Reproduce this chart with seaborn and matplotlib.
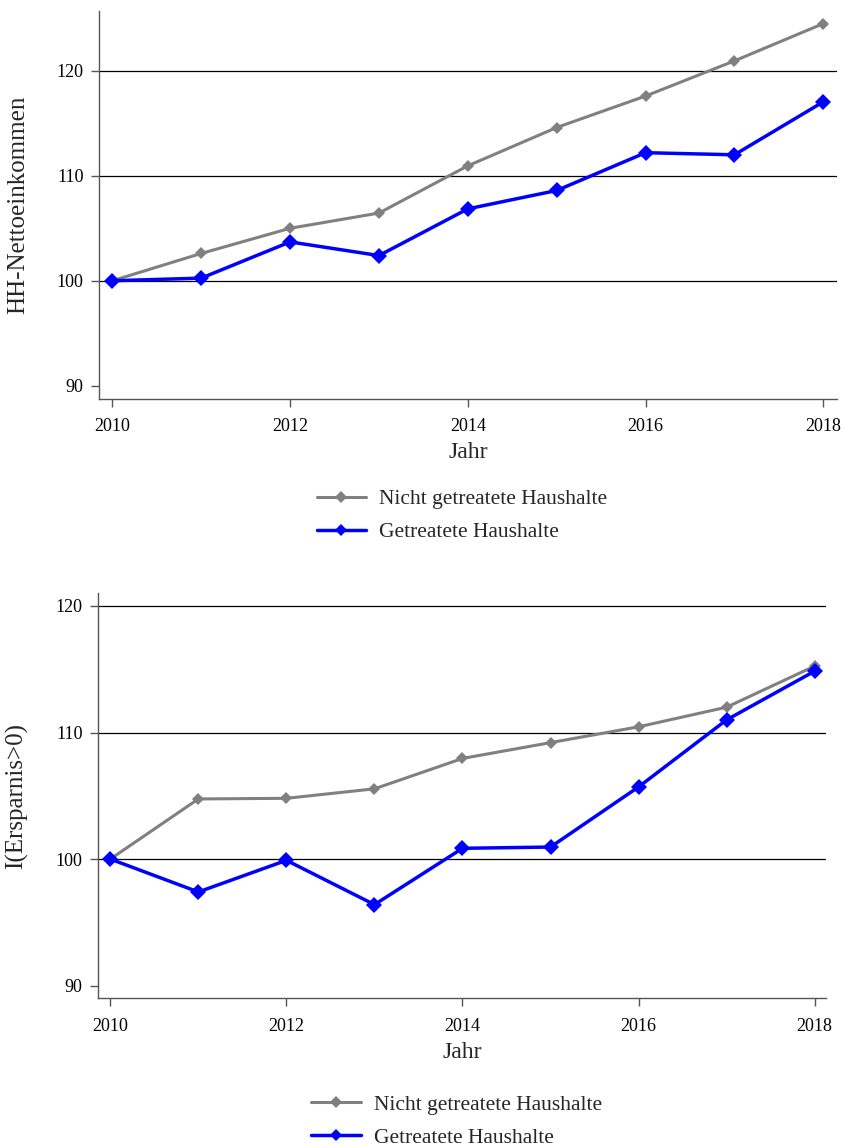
import matplotlib
matplotlib.use("Agg")
import matplotlib.pyplot as plt
from matplotlib.lines import Line2D
import seaborn as sns
import pandas as pd

# Years and indexed values (2010 = 100)
years = [2010, 2011, 2012, 2013, 2014, 2015, 2016, 2017, 2018]

income_untreated = [100.0, 102.6, 105.0, 106.45, 110.95, 114.6, 117.6, 120.95, 124.5]
income_treated = [100.0, 100.25, 103.7, 102.4, 106.85, 108.6, 112.2, 112.0, 117.05]

saving_untreated = [100.0, 104.75, 104.8, 105.55, 107.95, 109.2, 110.45, 112.0, 115.25]
saving_treated = [100.0, 97.4, 99.9, 96.4, 100.85, 100.95, 105.7, 111.0, 114.85]

group_labels = ["Nicht getreatete Haushalte", "Getreatete Haushalte"]
y_labels = ["HH-Nettoeinkommen", "I(Ersparnis>0)"]
x_label = "Jahr"
y_ticks = [90, 100, 110, 120]
grid_values = [100, 110, 120]
x_ticks = [2010, 2012, 2014, 2016, 2018]

colors = {group_labels[0]: "#808080", group_labels[1]: "#0000FF"}

sns.set_theme(style="white")
plt.rcParams["font.family"] = ["Liberation Serif", "DejaVu Serif"]


def long_frame(untreated, treated):
    return pd.DataFrame({
        "Jahr": years * 2,
        "Wert": list(untreated) + list(treated),
        "Gruppe": [group_labels[0]] * len(years) + [group_labels[1]] * len(years),
    })


fig = plt.figure(figsize=(8.44, 11.46), dpi=100)
ax1 = fig.add_axes([0.1173, 0.6518, 0.874, 0.3386])
ax2 = fig.add_axes([0.1158, 0.1289, 0.863, 0.3534])

panels = [
    (ax1, long_frame(income_untreated, income_treated), y_labels[0], (88.73, 125.7), (2009.85, 2018.15)),
    (ax2, long_frame(saving_untreated, saving_treated), y_labels[1], (89.0, 121.0), (2009.857, 2018.13)),
]

for ax, df, ylab, ylim, xlim in panels:
    for v in grid_values:
        ax.axhline(v, color="black", linewidth=0.9, zorder=0)
    for g, lw, ms in [(group_labels[0], 2.2, 6.5), (group_labels[1], 2.5, 8)]:
        sns.lineplot(data=df[df["Gruppe"] == g], x="Jahr", y="Wert", ax=ax,
                     color=colors[g], linewidth=lw, marker="D", markersize=ms,
                     markeredgewidth=0, legend=False)
    ax.set_ylim(*ylim)
    ax.set_xlim(*xlim)
    ax.set_yticks(y_ticks)
    ax.set_xticks(x_ticks)
    for s in ["top", "right"]:
        ax.spines[s].set_visible(False)
    for s in ["left", "bottom"]:
        ax.spines[s].set_color("#555555")
        ax.spines[s].set_linewidth(1.0)
    ax.tick_params(axis="both", which="major", direction="out", length=6,
                   width=1.0, color="#555555", labelsize=13, labelcolor="black",
                   left=True, bottom=True)
    ax.tick_params(axis="x", pad=8)
    ax.tick_params(axis="y", pad=5)
    ax.set_ylabel(ylab, fontsize=18, labelpad=20)
    ax.set_xlabel(x_label, fontsize=17, labelpad=5)

# Legends below each panel
handles = [
    Line2D([], [], color=colors[group_labels[0]], lw=2.2, marker="D", markersize=6, markeredgewidth=0),
    Line2D([], [], color=colors[group_labels[1]], lw=2.5, marker="D", markersize=6.5, markeredgewidth=0),
]
for ypos, xpos in [(0.5499, 0.375), (0.0218, 0.369)]:
    fig.legend(handles, group_labels, loc="center left", bbox_to_anchor=(xpos, ypos),
               frameon=False, fontsize=15.5, handlelength=2.3, handletextpad=0.6,
               labelspacing=0.6, borderaxespad=0, borderpad=0)

fig.savefig("out.png", dpi=100)
